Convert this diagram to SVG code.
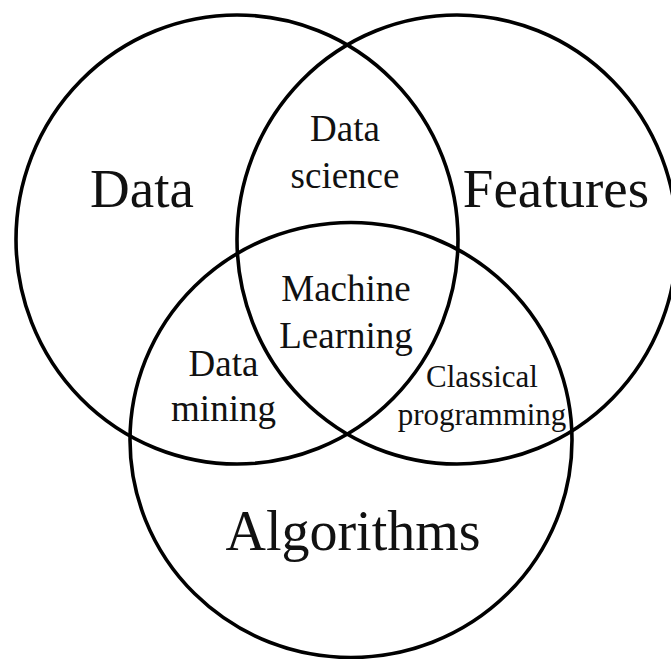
<svg xmlns="http://www.w3.org/2000/svg" width="671" height="659" viewBox="0 0 671 659">
<style>
.c{fill:none;stroke:#000;stroke-width:3.6}
text{font-family:"Liberation Serif","Times New Roman",serif;fill:#111;text-anchor:middle}
.big{font-size:55px}
.mid{font-size:37px}
.sm{font-size:31px}
</style>
<rect width="671" height="659" fill="#fff"/>
<g id="connectors"></g>
<g id="data">
<ellipse class="c" cx="237" cy="239.5" rx="221" ry="224.5"/>
<text class="big" x="142" y="207">Data</text>
</g>
<g id="features">
<ellipse class="c" cx="457" cy="239.5" rx="220" ry="224.5"/>
<text class="big" x="556" y="207">Features</text>
</g>
<g id="algorithms">
<ellipse class="c" cx="351" cy="440" rx="221" ry="217.5"/>
<text class="big" x="353" y="550" style="font-size:56px">Algorithms</text>
</g>
<g id="data-science">
<text class="mid" x="345" y="141">Data</text>
<text class="mid" x="345" y="188">science</text>
</g>
<g id="machine-learning">
<text class="mid" x="346" y="301">Machine</text>
<text class="mid" x="346" y="348">Learning</text>
</g>
<g id="data-mining">
<text class="mid" x="223.5" y="376">Data</text>
<text class="mid" x="223.5" y="421">mining</text>
</g>
<g id="classical-programming">
<text class="sm" x="482" y="387">Classical</text>
<text class="sm" x="482" y="425">programming</text>
</g>
</svg>
